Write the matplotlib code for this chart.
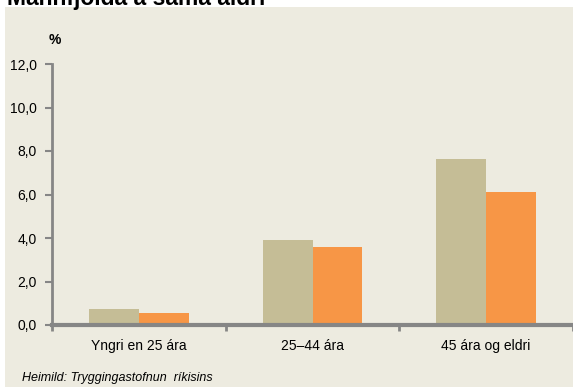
import matplotlib
matplotlib.use("Agg")
import matplotlib.pyplot as plt
import numpy as np
from matplotlib.patches import Rectangle

plt.rcParams["font.family"] = ["Liberation Sans", "DejaVu Sans"]

categories = ["Yngri en 25 ára", "25–44 ára", "45 ára og eldri"]
series_a = [0.75, 3.9, 7.65]
series_b = [0.55, 3.6, 6.1]
y_ticks = [0, 2, 4, 6, 8, 10, 12]

W, H = 573, 387
fig = plt.figure(figsize=(W / 100, H / 100), dpi=100)
fig.patch.set_facecolor("white")

# beige panel behind the chart
fig.patches.append(Rectangle((5 / W, 0), 1 - 5 / W, 1 - 7 / H, transform=fig.transFigure,
                             facecolor="#EDEBE0", edgecolor="none", zorder=-10))

# title, cut off by the top edge as in the source image
fig.text(7 / W, 1 - 5 / H, "Mannfjölda á sama aldri", fontsize=16.5, fontweight="bold",
         va="baseline", ha="left")

ax = fig.add_axes([52 / W, 1 - 325 / H, 1 - 52 / W, (325 - 64) / H])
ax.set_facecolor("none")

x = np.arange(len(categories))
bw = 0.287
ax.bar(x - bw / 2, series_a, bw, color="#C5BD96", zorder=2)
ax.bar(x + bw / 2, series_b, bw, color="#F79646", zorder=2)

ax.set_xlim(-0.5, len(categories) - 0.5)
ax.set_ylim(0, 12)
ax.set_yticks(y_ticks)
ax.set_yticklabels([f"{v:.1f}".replace(".", ",") for v in y_ticks], fontsize=10)
ax.set_xticks(x)
ax.set_xticklabels(categories, fontsize=10)
ax.set_xticks(np.arange(-0.5, len(categories)), minor=True)
ax.tick_params(axis="x", which="major", length=0, pad=10)
ax.tick_params(axis="x", which="minor", length=4, width=2, color="#868686", direction="out")
ax.tick_params(axis="y", length=5, width=1.5, color="#868686", pad=6)

for s in ["top", "right"]:
    ax.spines[s].set_visible(False)
ax.spines["left"].set_color("#868686")
ax.spines["left"].set_linewidth(2)
ax.spines["bottom"].set_color("#868686")
ax.spines["bottom"].set_linewidth(3)
ax.spines["bottom"].set_zorder(3)

fig.text(55 / W, 1 - 40 / H, "%", fontsize=10, fontweight="bold", va="center", ha="center")
fig.text(22 / W, 1 - 378 / H, "Heimild: Tryggingastofnun  ríkisins", fontsize=9,
         style="italic", va="center", ha="left")

fig.savefig("out.png", dpi=100)
